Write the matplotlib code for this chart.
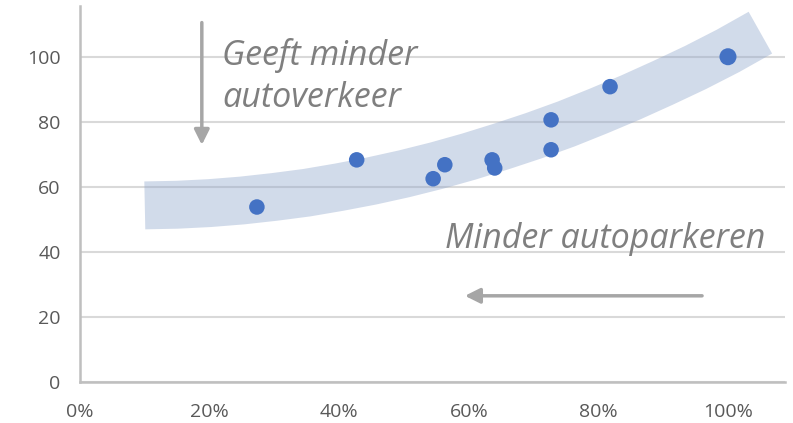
import matplotlib.pyplot as plt

# scatter points (share %, index)
xs = [27.3, 42.7, 54.5, 56.3, 63.6, 64.0, 72.7, 72.7, 81.8, 100.0]
ys = [53.8, 68.3, 62.5, 66.8, 68.3, 65.8, 80.6, 71.4, 90.8, 100.0]

# band centre line
band_x = [10, 15, 20, 25, 30, 35, 40, 45, 50, 55, 60, 65, 70, 75, 80, 85, 90, 95, 100, 105]
band_y = [54.3, 54.5, 55.0, 55.8, 56.9, 58.2, 59.9, 61.8, 64.0, 66.5, 69.3, 72.4,
          75.7, 79.3, 83.3, 87.5, 92.0, 96.7, 101.8, 107.4]

xticks = [0, 20, 40, 60, 80, 100]
xlabels = ['0%', '20%', '40%', '60%', '80%', '100%']
yticks = [0, 20, 40, 60, 80, 100]

plt.rcParams['font.family'] = ['Open Sans', 'DejaVu Sans']

fig = plt.figure(figsize=(7.93, 4.23), dpi=100)
ax = fig.add_axes([80 / 793, 41 / 423, 705 / 793, 376 / 423])

ax.set_xlim(0, 108.8)
ax.set_ylim(0, 115.6)

ax.grid(axis='y', color='#D9D9D9', lw=1.5, zorder=0)
ax.set_axisbelow(True)

# trend band
ax.plot(band_x, band_y, color='#8EA5CB', alpha=0.4, lw=34.5,
        solid_capstyle='butt', solid_joinstyle='round', zorder=1)

ax.scatter(xs[:-1], ys[:-1], s=125, color='#4472C4', edgecolors='none', zorder=3)
ax.scatter(xs[-1:], ys[-1:], s=150, color='#4472C4', edgecolors='none', zorder=3)

ax.set_xticks(xticks)
ax.set_xticklabels(xlabels)
ax.set_yticks(yticks)
ax.tick_params(length=0, labelsize=14, colors='#595959')
ax.tick_params(axis='x', pad=15)
ax.tick_params(axis='y', pad=14)

for s in ['top', 'right']:
    ax.spines[s].set_visible(False)
for s in ['left', 'bottom']:
    ax.spines[s].set_color('#BFBFBF')
    ax.spines[s].set_linewidth(1.8)

gray = '#7F7F7F'
ax.text(21.9, 97.5, 'Geeft minder', fontsize=24.5, style='italic', color=gray, va='baseline')
ax.text(21.9, 84.6, 'autoverkeer', fontsize=24.5, style='italic', color=gray, va='baseline')
ax.text(56.3, 41.2, 'Minder autoparkeren', fontsize=24.5, style='italic', color=gray, va='baseline')

arrow = dict(arrowstyle='-|>,head_length=0.9,head_width=0.45', color='#A6A6A6', lw=2.5,
             shrinkA=0, shrinkB=0)
ax.annotate('', xy=(18.8, 72.9), xytext=(18.8, 110.5), arrowprops=arrow)
ax.annotate('', xy=(59.4, 26.5), xytext=(96.0, 26.5), arrowprops=arrow)

fig.savefig('out.png', dpi=100)
